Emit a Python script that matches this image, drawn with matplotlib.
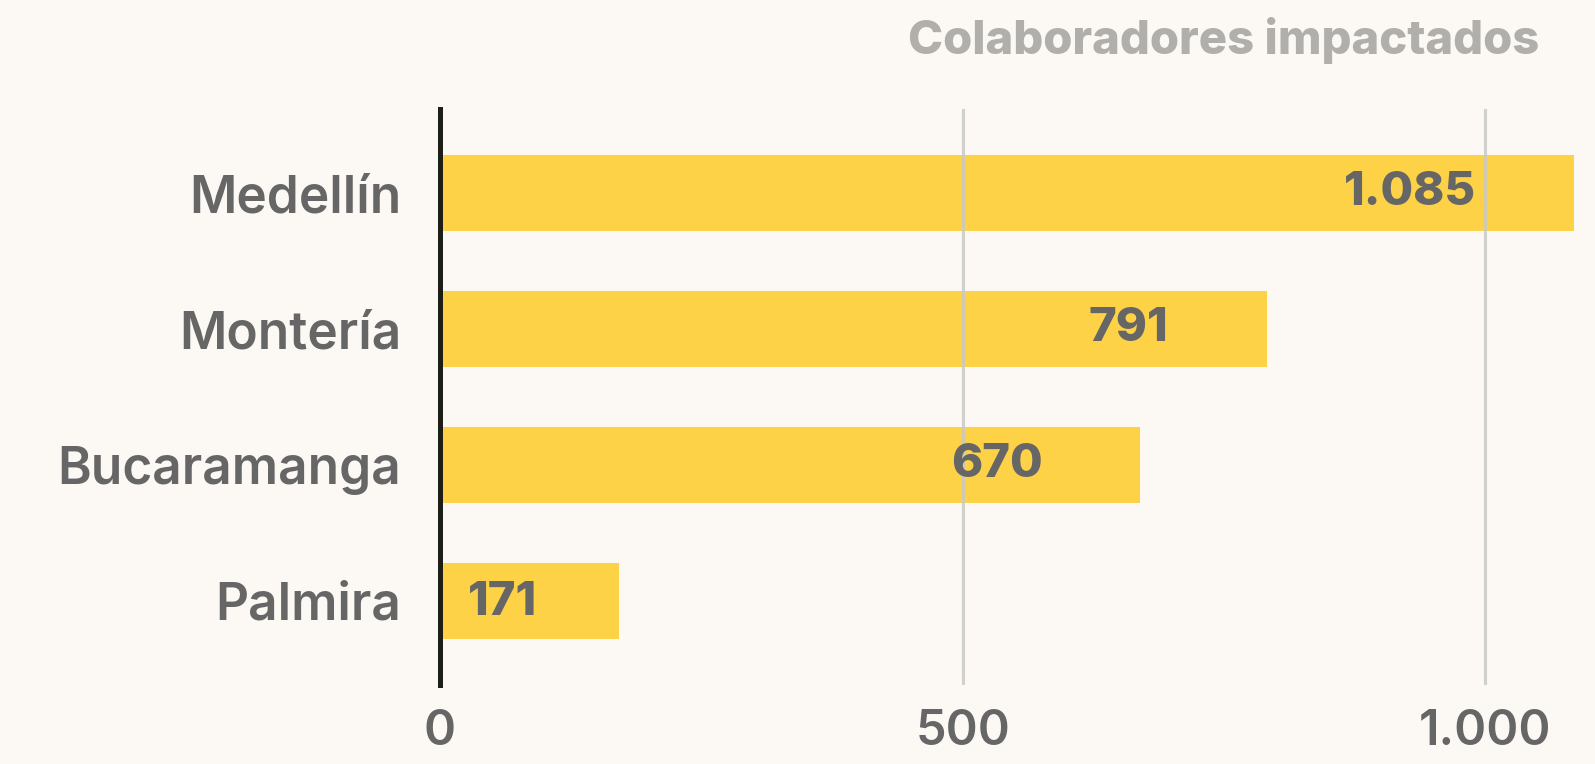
import matplotlib
matplotlib.use("Agg")
import matplotlib.pyplot as plt
from matplotlib.ticker import FixedLocator, FuncFormatter

# Data
ciudades = ["Medellín", "Montería", "Bucaramanga", "Palmira"]
colaboradores = [1085, 791, 670, 171]
ticks = [0, 500, 1000]
titulo = "Colaboradores impactados"

BG = "#fcf8f4"
BAR = "#fdd247"
TEXT = "#666666"
TITLE = "#b0afab"
GRID = "#c9c9c7"

plt.rcParams["font.family"] = ["Inter", "Open Sans", "DejaVu Sans"]


def fmt(v):
    return f"{int(v):,}".replace(",", ".")


W, H = 1595, 764
fig = plt.figure(figsize=(W / 100, H / 100), dpi=100, facecolor=BG)

x0, x1 = 440, 1574
y0, y1 = 109, 685
ax = fig.add_axes([x0 / W, 1 - y1 / H, (x1 - x0) / W, (y1 - y0) / H])
ax.set_facecolor(BG)

ypos = list(range(len(ciudades)))
ax.barh(ypos, colaboradores, height=0.56, color=BAR, zorder=2)

ax.set_xlim(0, max(colaboradores))
ax.set_ylim(len(ciudades) - 1 + 0.62, -0.62)

# vertical grid lines on top of bars (faint inside them)
for t in ticks[1:]:
    ax.axvline(t, color=GRID, lw=2.2, zorder=3, alpha=0.85)

for s in ["top", "right", "bottom"]:
    ax.spines[s].set_visible(False)
ax.spines["left"].set_color("#1e1e19")
ax.spines["left"].set_linewidth(3.6)
ax.spines["left"].set_zorder(5)

ax.set_yticks(ypos)
ax.set_yticklabels(ciudades, fontsize=37, fontweight="semibold", color=TEXT)
ax.tick_params(axis="y", length=0, pad=28)

ax.xaxis.set_major_locator(FixedLocator(ticks))
ax.xaxis.set_major_formatter(FuncFormatter(lambda v, p: fmt(v)))
ax.tick_params(axis="x", length=0, pad=17, labelsize=35, labelcolor=TEXT)
for lbl in ax.get_xticklabels():
    lbl.set_fontweight("semibold")

# value labels inside the bars
for y, v in zip(ypos, colaboradores):
    if v > 300:
        ax.annotate(fmt(v), xy=(v, y), xytext=(-98, 0), textcoords="offset pixels",
                    ha="right", va="center", fontsize=34, fontweight="heavy",
                    color=TEXT, zorder=6)
    else:
        ax.annotate(fmt(v), xy=(0, y), xytext=(28, -2), textcoords="offset pixels",
                    ha="left", va="center", fontsize=34, fontweight="heavy",
                    color=TEXT, zorder=6)

fig.text(1539 / W, 1 - 40 / H, titulo, ha="right", va="center",
         fontsize=34, fontweight="heavy", color=TITLE)

fig.savefig("out.png", dpi=100, facecolor=BG)
